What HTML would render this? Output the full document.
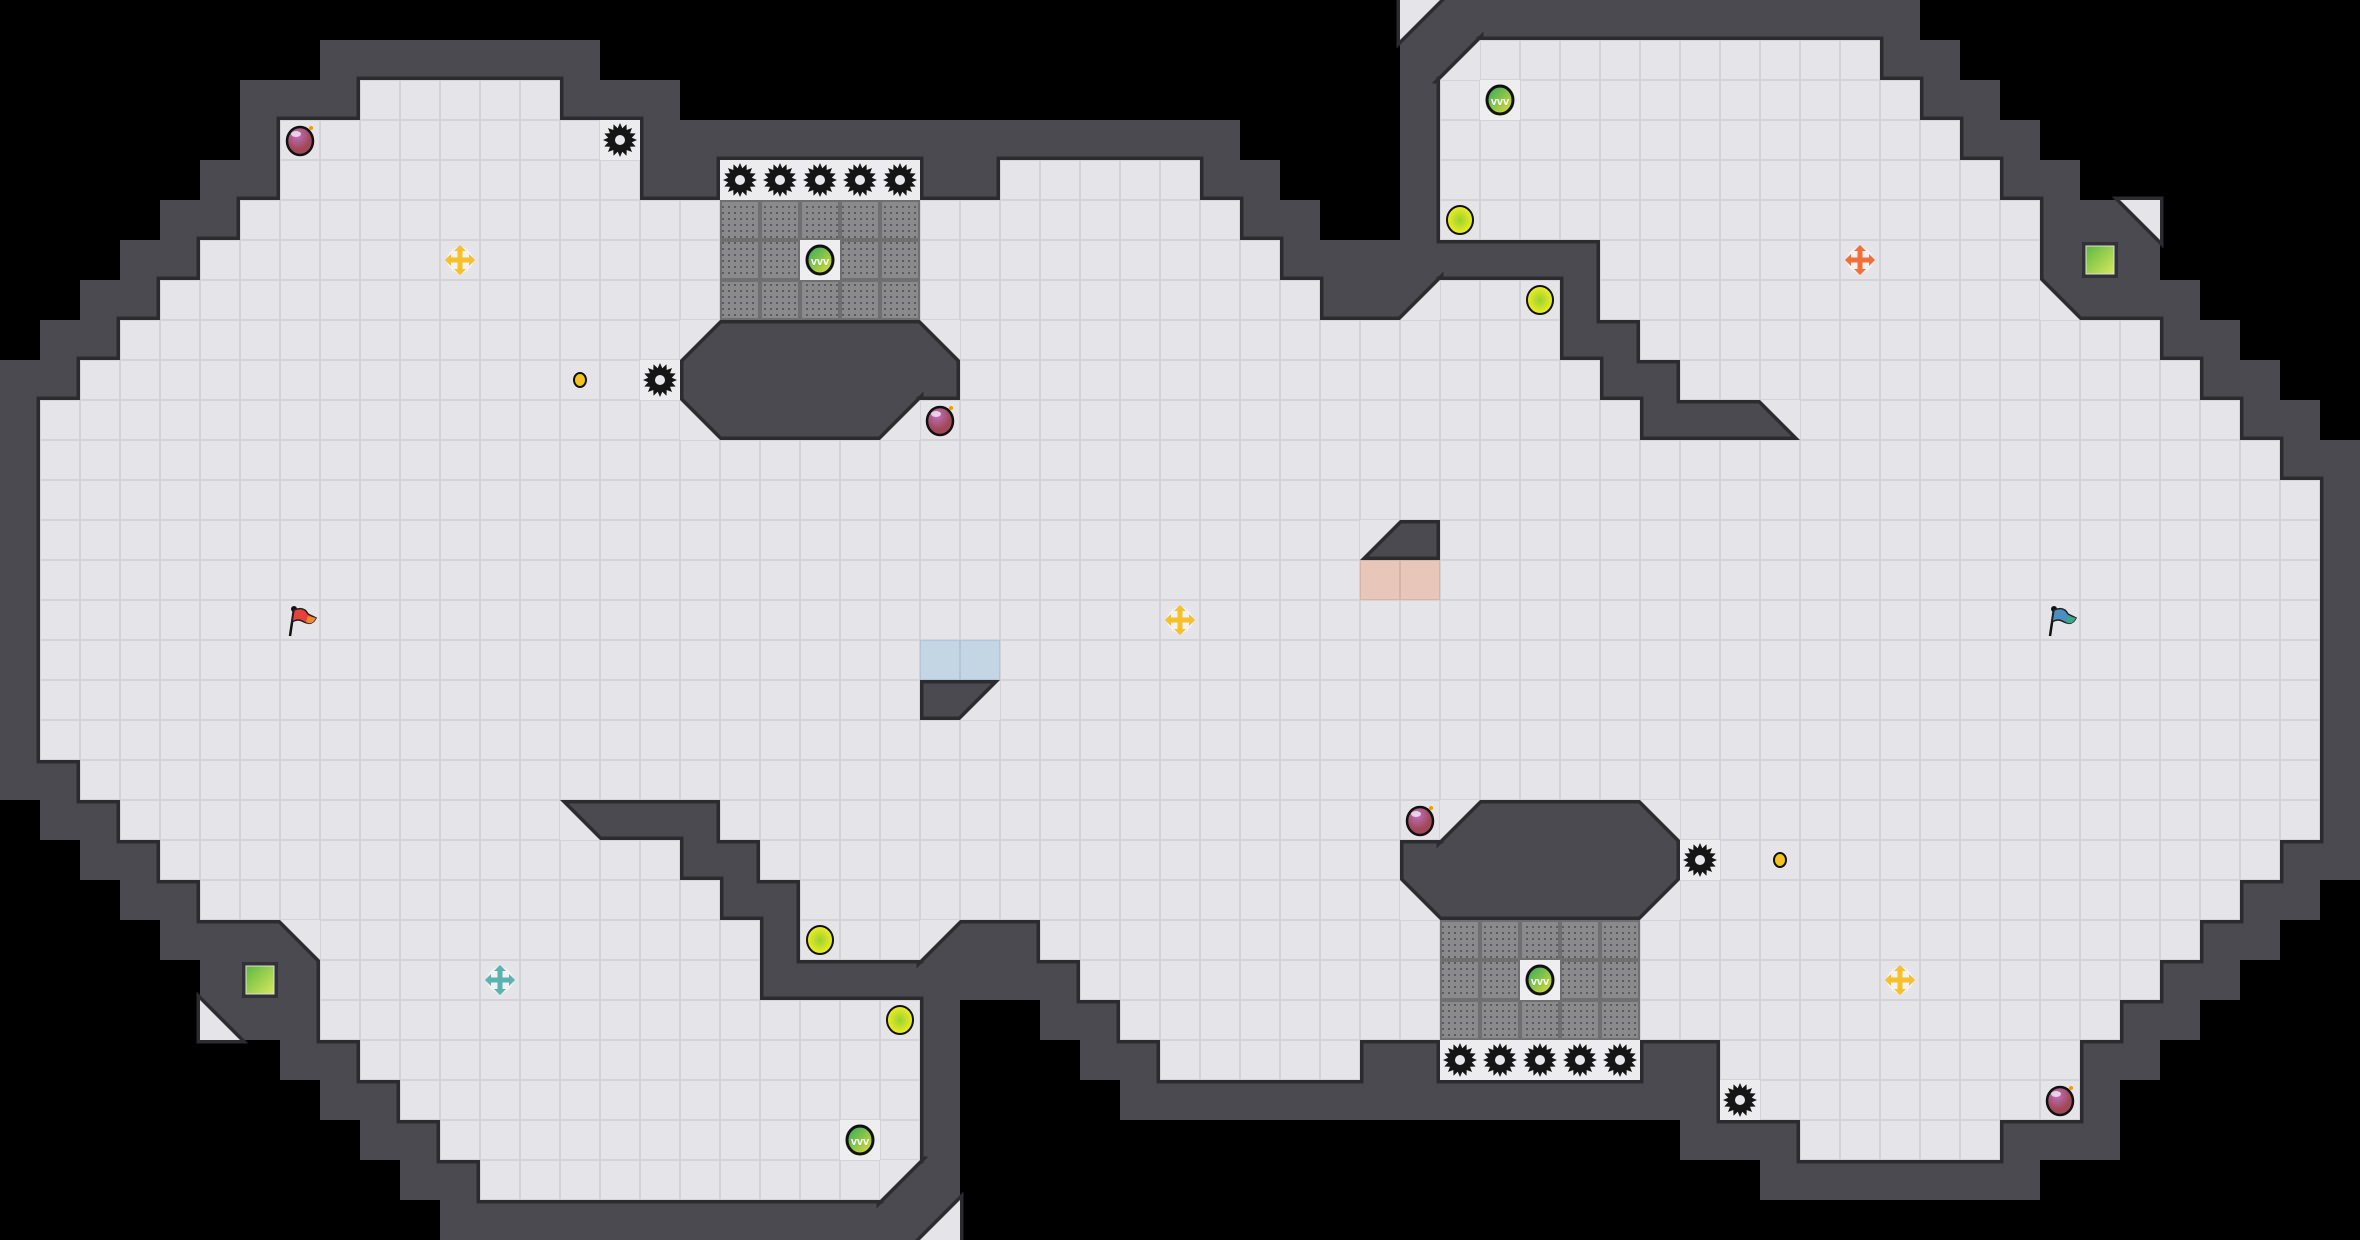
<!DOCTYPE html>
<html><head><meta charset="utf-8"><style>
html,body{margin:0;padding:0;background:#000;width:2360px;height:1240px;overflow:hidden}
svg{display:block}
</style></head><body>
<svg id="s" width="2360" height="1240" xmlns="http://www.w3.org/2000/svg"></svg>
<script>
(function(){
var T=40,W=59,H=31;
function mk(){return new Array(W).fill(' ');}
var TOPR=[];
function row(spec){var r=mk();for(var i=0;i<spec.length;i++){var a=spec[i][0],b=spec[i][1],ch=spec[i][2];for(var c=a;c<=b;c++)r[c]=ch;}return r;}
TOPR[0]=row([[35,35,'c'],[36,47,'#']]);
TOPR[1]=row([[8,14,'#'],[35,35,'#'],[36,36,'a'],[37,46,'.'],[47,48,'#']]);
TOPR[2]=row([[6,8,'#'],[9,13,'.'],[14,16,'#'],[35,35,'#'],[36,47,'.'],[48,49,'#']]);
TOPR[3]=row([[6,6,'#'],[7,15,'.'],[16,30,'#'],[35,35,'#'],[36,48,'.'],[49,50,'#']]);
TOPR[4]=row([[5,6,'#'],[7,15,'.'],[16,17,'#'],[18,22,'.'],[23,24,'#'],[25,29,'.'],[30,31,'#'],[35,35,'#'],[36,49,'.'],[50,51,'#']]);
TOPR[5]=row([[4,5,'#'],[6,17,'.'],[18,22,'g'],[23,30,'.'],[31,32,'#'],[35,35,'#'],[36,50,'.'],[51,52,'#'],[53,53,'d']]);
TOPR[6]=row([[3,4,'#'],[5,17,'.'],[18,22,'g'],[20,20,'.'],[23,31,'.'],[32,39,'#'],[40,50,'.'],[51,53,'#']]);
TOPR[7]=row([[2,3,'#'],[4,17,'.'],[18,22,'g'],[23,32,'.'],[33,34,'#'],[35,35,'a'],[36,38,'.'],[39,39,'#'],[40,50,'.'],[51,51,'b'],[52,54,'#']]);
TOPR[8]=row([[1,2,'#'],[3,16,'.'],[17,17,'c'],[18,22,'#'],[23,23,'d'],[24,38,'.'],[39,40,'#'],[41,53,'.'],[54,55,'#']]);
TOPR[9]=row([[0,1,'#'],[2,16,'.'],[17,23,'#'],[24,39,'.'],[40,41,'#'],[42,54,'.'],[55,56,'#']]);
TOPR[10]=row([[0,0,'#'],[1,16,'.'],[17,17,'b'],[18,21,'#'],[22,22,'a'],[23,40,'.'],[41,43,'#'],[44,44,'d'],[45,55,'.'],[56,57,'#']]);
TOPR[11]=row([[0,0,'#'],[1,56,'.'],[57,58,'#']]);
TOPR[12]=row([[0,0,'#'],[1,57,'.'],[58,58,'#']]);
TOPR[13]=row([[0,0,'#'],[1,33,'.'],[34,34,'c'],[35,35,'#'],[36,57,'.'],[58,58,'#']]);
TOPR[14]=row([[0,0,'#'],[1,33,'.'],[34,35,'R'],[36,57,'.'],[58,58,'#']]);
TOPR[15]=row([[0,0,'#'],[1,57,'.'],[58,58,'#']]);
var rot={'a':'c','c':'a','b':'d','d':'b','R':'B'};
var G=[];
for(var r=0;r<H;r++){
  if(r<=15)G[r]=TOPR[r];
  else{G[r]=mk();for(var c=0;c<W;c++){var ch=TOPR[30-r][58-c];G[r][c]=rot[ch]||ch;}}
}
G[6][52]='#';G[24][6]='#';
var svg=document.getElementById('s');
var out='';
function wallPoly(c,r,t){var x=c*T,y=r*T,X=x+T,Y=y+T;
 switch(t){case'a':return [[x,y],[X,y],[x,Y]];case'b':return [[x,y],[X,y],[X,Y]];case'c':return [[X,y],[X,Y],[x,Y]];case'd':return [[x,y],[x,Y],[X,Y]];}}
function floorPoly(c,r,t){var x=c*T,y=r*T,X=x+T,Y=y+T;
 switch(t){case'a':return [[X,y],[X,Y],[x,Y]];case'b':return [[x,y],[x,Y],[X,Y]];case'c':return [[x,y],[X,y],[x,Y]];case'd':return [[x,y],[X,y],[X,Y]];}}
function pts(p){return p.map(function(q){return q.join(',');}).join(' ');}
var WALL='#4b4a50',EDGE='#2c2c30';
var r,c,ch;
for(r=0;r<H;r++)for(c=0;c<W;c++){ch=G[r][c];
 if(ch==='#')out+='<rect x="'+c*T+'" y="'+r*T+'" width="40" height="40" fill="'+WALL+'"/>';
 else if('abcd'.indexOf(ch)>=0)out+='<polygon points="'+pts(wallPoly(c,r,ch))+'" fill="'+WALL+'"/>';}
for(r=0;r<H;r++)for(c=0;c<W;c++){ch=G[r][c];
 if('.gRB'.indexOf(ch)>=0)out+='<rect x="'+c*T+'" y="'+r*T+'" width="40" height="40" fill="'+EDGE+'" stroke="'+EDGE+'" stroke-width="7"/>';
 else if('abcd'.indexOf(ch)>=0)out+='<polygon points="'+pts(floorPoly(c,r,ch))+'" fill="'+EDGE+'" stroke="'+EDGE+'" stroke-width="7"/>';}
for(r=0;r<H;r++)for(c=0;c<W;c++){ch=G[r][c];var x=c*T,y=r*T;
 if(ch==='.'){out+='<rect x="'+x+'" y="'+y+'" width="40" height="40" fill="#d3d3d8"/><rect x="'+(x+1)+'" y="'+(y+1)+'" width="38" height="38" fill="#e5e5e9"/>';}
 else if(ch==='g'){out+='<rect x="'+x+'" y="'+y+'" width="40" height="40" fill="#6f6f72"/><rect x="'+(x+2)+'" y="'+(y+2)+'" width="36" height="36" fill="url(#dots)"/>';}
 else if(ch==='R'){out+='<rect x="'+x+'" y="'+y+'" width="40" height="40" fill="#d8b4a8"/><rect x="'+(x+1)+'" y="'+(y+1)+'" width="38" height="38" fill="#e8c6ba"/>';}
 else if(ch==='B'){out+='<rect x="'+x+'" y="'+y+'" width="40" height="40" fill="#b2c6d6"/><rect x="'+(x+1)+'" y="'+(y+1)+'" width="38" height="38" fill="#c4d6e4"/>';}
 else if('abcd'.indexOf(ch)>=0){out+='<polygon points="'+pts(floorPoly(c,r,ch))+'" fill="#e5e5e9"/>';}}
function cx(c){return c*T+20;} function cy(r){return r*T+20;}
function spike(c,r){var p='';var X=cx(c),Y=cy(r);for(var i=0;i<32;i++){var a=i*Math.PI/16;var rr=i%2?12:17;p+=(X+rr*Math.cos(a)).toFixed(1)+','+(Y+rr*Math.sin(a)).toFixed(1)+' ';}
 return '<rect x="'+(c*T)+'" y="'+(r*T)+'" width="40" height="40" fill="#ececee"/><polygon points="'+p+'" fill="#151515"/><circle cx="'+X+'" cy="'+Y+'" r="5" fill="#e8e8ea"/>';}
function bomb(c,r){var X=cx(c),Y=cy(r);return '<ellipse cx="'+X+'" cy="'+(Y+1)+'" rx="13" ry="14" fill="url(#bombg)" stroke="#111" stroke-width="2.5"/><ellipse cx="'+(X-4)+'" cy="'+(Y-6)+'" rx="5" ry="3" fill="#fff" opacity=".7"/><circle cx="'+(X+11)+'" cy="'+(Y-12)+'" r="2" fill="#f90"/>';}
function boost(c,r){var X=cx(c),Y=cy(r);return '<rect x="'+(c*T)+'" y="'+(r*T)+'" width="40" height="40" fill="#eeeef0"/><ellipse cx="'+X+'" cy="'+Y+'" rx="13" ry="14" fill="url(#boostg)" stroke="#111" stroke-width="3"/><text x="'+X+'" y="'+(Y+5)+'" font-family="Liberation Sans, sans-serif" font-size="11" fill="#fff" text-anchor="middle" font-weight="bold">vvv</text>';}
function yball(c,r){return '<ellipse cx="'+cx(c)+'" cy="'+cy(r)+'" rx="13" ry="14" fill="url(#yg)" stroke="#111" stroke-width="2"/>';}
function dot(c,r){return '<ellipse cx="'+cx(c)+'" cy="'+cy(r)+'" rx="6" ry="7" fill="#f4c21a" stroke="#111" stroke-width="2"/>';}
function cross(c,r,col){var X=cx(c),Y=cy(r);return '<circle cx="'+X+'" cy="'+Y+'" r="13" fill="#fff" opacity=".5"/><path d="M'+(X-11)+' '+Y+'H'+(X+11)+'M'+X+' '+(Y-11)+'V'+(Y+11)+'" stroke="'+col+'" stroke-width="5"/><path d="M'+(X-15)+' '+Y+'l6 -6v12zM'+(X+15)+' '+Y+'l-6 -6v12zM'+X+' '+(Y-15)+'l-6 6h12zM'+X+' '+(Y+15)+'l-6 -6h12z" fill="'+col+'"/>';}
function tele(c,r){var x=c*T,y=r*T;return '<rect x="'+(x+2)+'" y="'+(y+2)+'" width="36" height="36" fill="#333236"/><rect x="'+(x+6)+'" y="'+(y+6)+'" width="28" height="28" fill="url(#tg)" stroke="#ddd" stroke-width="1"/>';}
function flag(c,r,col,col2){var x=c*T,y=r*T;return '<path d="M'+(x+10)+' '+(y+36)+'L'+(x+14)+' '+(y+9)+'" stroke="#111" stroke-width="2.5"/><circle cx="'+(x+14)+'" cy="'+(y+9)+'" r="3" fill="#111"/><path d="M'+(x+14)+' '+(y+10)+'Q'+(x+24)+' '+(y+6)+' '+(x+28)+' '+(y+14)+'L'+(x+36)+' '+(y+18)+'Q'+(x+32)+' '+(y+26)+' '+(x+24)+' '+(y+22)+'Q'+(x+18)+' '+(y+18)+' '+(x+12)+' '+(y+22)+'Z" fill="'+col+'" stroke="#222" stroke-width="1.5"/><path d="M'+(x+28)+' '+(y+16)+'L'+(x+36)+' '+(y+18)+'Q'+(x+32)+' '+(y+26)+' '+(x+26)+' '+(y+22)+'Z" fill="'+col2+'"/>';}
var spikes=[[15,3],[18,4],[19,4],[20,4],[21,4],[22,4],[16,9]];
for(var i=0;i<spikes.length;i++){var s=spikes[i];out+=spike(s[0],s[1]);out+=spike(58-s[0],30-s[1]);}
out+=bomb(7,3)+bomb(51,27)+bomb(23,10)+bomb(35,20);
out+=boost(20,6)+boost(38,24)+boost(37,2)+boost(21,28);
out+=yball(36,5)+yball(22,25)+yball(38,7)+yball(20,23);
out+=dot(14,9)+dot(44,21);
out+=cross(11,6,'#f5c02a')+cross(47,24,'#f5c02a')+cross(29,15,'#f5c02a')+cross(46,6,'#f0703a')+cross(12,24,'#5bb3b0');
out+=tele(52,6)+tele(6,24);
out+=flag(7,15,'#e8403a','#f08a30')+flag(51,15,'#4a8fc0','#3aa888');
var defs='<defs>'+
'<pattern id="dots" width="6" height="6" patternUnits="userSpaceOnUse"><rect width="6" height="6" fill="#8a8a8d"/><rect x="2" y="2" width="2" height="2" fill="#5c5c60"/></pattern>'+
'<radialGradient id="bombg" cx=".4" cy=".3"><stop offset="0" stop-color="#c070c0"/><stop offset="1" stop-color="#a04858"/></radialGradient>'+
'<linearGradient id="boostg" x1="0" y1="0" x2="1" y2="1"><stop offset="0" stop-color="#2aa860"/><stop offset="1" stop-color="#e8e030"/></linearGradient>'+
'<radialGradient id="yg"><stop offset="0" stop-color="#9ad030"/><stop offset="1" stop-color="#f0ee20"/></radialGradient>'+
'<linearGradient id="tg" x1="0" y1="0" x2="1" y2="1"><stop offset="0" stop-color="#5cb840"/><stop offset="1" stop-color="#d8e860"/></linearGradient>'+
'</defs>';
svg.innerHTML=defs+out;
})();
</script>
</body></html>
